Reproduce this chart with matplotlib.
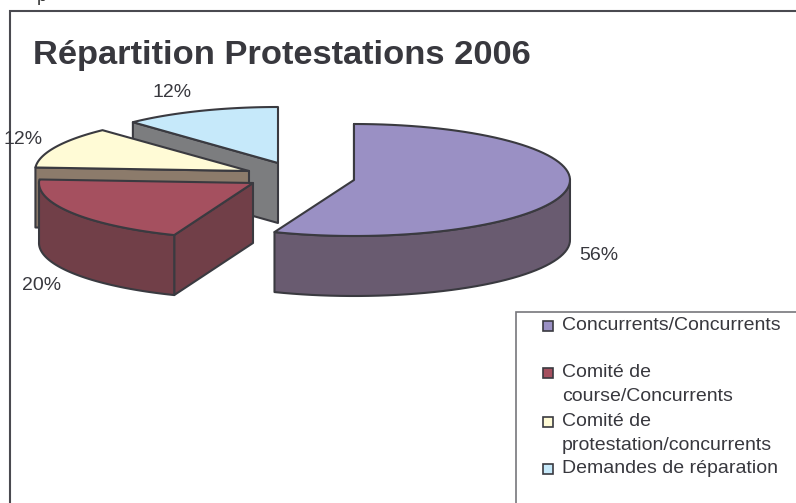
'''
Repartition des protestations 2006, pseudo 3D exploded pie drawn by hand
'''
import numpy as np
import matplotlib
matplotlib.use('Agg')
import matplotlib.pyplot as plt
from matplotlib.patches import Polygon, Rectangle

plt.rcParams['font.family'] = ['Liberation Sans', 'DejaVu Sans']

title = 'Répartition Protestations 2006'
categories = ['Concurrents/Concurrents', 'Comité de\ncourse/Concurrents',
              'Comité de\nprotestation/concurrents', 'Demandes de réparation']
values = [56, 20, 12, 12]
labels = ['56%', '20%', '12%', '12%']

top_colors = ['#9a90c4', '#a5505f', '#fffbd6', '#c6e9fa']
side_colors = ['#695b70', '#713f48', '#8c7b6b', '#7c7d7f']
# apex of each slice on the page (exploded by hand)
apex = [(354, 180), (253, 183), (249, 171), (278, 163)]
radius_x = [216, 214, 214, 212]
label_pos = [(599, 255), (42, 285), (23, 139), (172, 92)]
ry, depth = 56, 60
edge = '#3a3a40'

W, H = 796, 503
fig = plt.figure(figsize=(W / 100, H / 100), dpi=100)
ax = fig.add_axes([0, 0, 1, 1])
ax.set_xlim(0, W)
ax.set_ylim(H, 0)
ax.axis('off')


def rim(i, a0, a1):
    t = np.radians(np.linspace(a0, a1, 80))
    cx, cy = apex[i]
    return np.column_stack([cx + radius_x[i] * np.sin(t), cy - ry * np.cos(t)])


def add_poly(pts, color, z):
    ax.add_patch(Polygon(pts, closed=True, facecolor=color, edgecolor=edge,
                         linewidth=1.5, joinstyle='round', zorder=z))


# angles clockwise from 12 o'clock
bounds = np.cumsum([0] + values) * 3.6

# frame
ax.add_patch(Rectangle((10, 11), 900, 600, facecolor='white', edgecolor='#4a4a50',
                       linewidth=1.5, zorder=0))
ax.text(37, -12, 'p', fontsize=13, color='#333333', va='top', ha='left', zorder=1)
ax.text(33, 55, title, fontsize=24.8, fontweight='bold', color='#38383e',
        va='center', ha='left', zorder=10)

# back to front: blue, yellow, red, purple
for z, i in enumerate([3, 2, 1, 0]):
    a0, a1 = bounds[i], bounds[i + 1]
    pts = rim(i, a0, a1)
    cx, cy = apex[i]
    down = np.array([0, depth])
    # flat cut face running from the start of the rim to the apex
    if i in (2, 3):
        first = pts[0]
        add_poly([first, (cx, cy), (cx, cy + depth), first + down], side_colors[i], 2 + z * 2)
    else:
        first = pts[0]
        add_poly([(cx, cy), first, first + down, (cx, cy + depth)], side_colors[i], 2 + z * 2)
        # curved wall under the front of the rim
        front = pts[np.cos(np.radians(np.linspace(a0, a1, 80))) <= 0.02]
        add_poly(np.vstack([front, (front + down)[::-1]]), side_colors[i], 2 + z * 2)
    add_poly(np.vstack([[(cx, cy)], pts]), top_colors[i], 3 + z * 2)

# data labels
for (x, y), s in zip(label_pos, labels):
    ax.text(x, y, s, fontsize=14, color='#38383e', ha='center', va='center', zorder=20)

# legend box
ax.add_patch(Rectangle((516, 312), 400, 300, facecolor='white', edgecolor='#77777b',
                       linewidth=1.2, zorder=12))
legend_y = [326, 373, 422, 469]
for c, s, y in zip(top_colors, categories, legend_y):
    ax.add_patch(Rectangle((543, y - 5), 10, 10, facecolor=c, edgecolor=edge,
                           linewidth=1.2, zorder=13))
    ax.text(562, y - 9, s, fontsize=14, color='#38383e', va='top', ha='left',
            linespacing=1.55, zorder=13)

fig.savefig('out.png', dpi=100)
